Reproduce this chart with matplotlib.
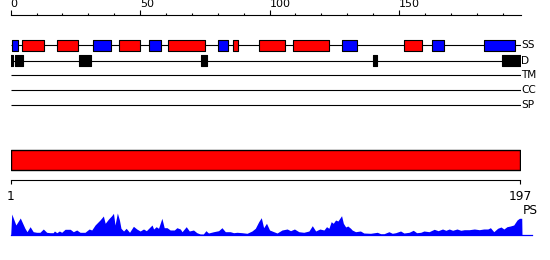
import numpy as np
import matplotlib.pyplot as plt

LENGTH = 197

# secondary structure segments (start, end) in residues
helix = [(4.5, 12.8), (17.7, 25.9), (41.7, 49.9), (60.6, 74.9), (85.8, 87.8),
         (95.8, 106.0), (109.0, 123.1), (151.9, 159.0)]
strand = [(0.6, 2.7), (31.6, 38.6), (53.5, 58.0), (80.0, 84.0), (127.9, 133.9),
          (162.8, 167.2), (182.9, 194.9)]
# disorder segments
disorder = [(-0.2, 0.8), (1.7, 4.6), (26.4, 30.9), (73.6, 76.0), (139.8, 141.4),
            (189.8, 197.3)]

track_names = ['SS', 'D', 'TM', 'CC', 'SP']
domain = [(1, 197)]

# PS profile (residue, score)
ps_pos = [0.0, 0.4, 2.0, 3.7, 5.5, 6.3, 7.5, 8.7, 10.0, 11.3, 12.6, 13.9, 15.2, 16.4,
          16.9, 17.8, 18.8, 19.7, 21.0, 23.0, 24.2, 25.5, 26.8, 28.7, 30.3,
          31.3, 32.6, 34.5, 35.8, 36.5, 37.8, 39.0, 39.7, 40.3, 41.2, 42.0, 42.6,
          43.6, 44.6, 45.9, 47.4, 48.7, 50.0, 51.3, 52.4, 54.6, 55.2, 56.2, 57.1,
          58.4, 59.3, 60.4, 61.6, 63.2, 64.2, 65.5, 66.2, 67.8, 69.0, 70.6, 71.9,
          73.2, 74.4, 75.4, 76.4, 78.4, 80.3, 81.6, 82.9, 84.8, 86.1, 87.4, 89.4,
          91.3, 93.2, 94.5, 95.8, 96.8, 97.7, 98.8, 100.0, 101.6, 102.9, 104.8,
          106.8, 108.1, 109.6, 111.3, 113.2, 115.2, 116.5, 117.8, 119.4, 121.0,
          122.0, 122.9, 123.8, 124.6, 125.5, 126.4, 127.8, 128.5, 129.4, 130.2,
          131.3, 131.9, 133.2, 135.1, 136.4, 139.0, 141.6, 142.9, 144.2, 146.1,
          147.4, 148.7, 150.6, 151.9, 153.9, 155.5, 156.8, 158.4, 159.6, 161.6,
          163.6, 165.1, 166.8, 168.1, 169.4, 170.7, 172.4, 173.9, 175.2, 177.1,
          179.1, 181.0, 182.7, 184.3, 185.3, 186.6, 188.1, 189.4, 190.5, 191.7,
          193.0, 194.3, 195.6, 196.5, 197.4, 197.5]
ps_val = [0, 21, 10, 17, 6.7, 3.3, 8.3, 3.3, 2.7, 2.7, 6, 2.7, 2.3, 2.3,
          4, 2.3, 4, 2.7, 5.7, 5.7, 3.3, 5, 2.7, 2.7, 6,
          5, 10, 15, 19, 11.7, 16, 19.3, 21.7, 10, 22, 15, 6.7,
          4, 6.7, 2.7, 8.7, 6, 4, 6, 4.3, 10, 6, 8.3, 6.7,
          16.7, 7.3, 7.3, 5, 5, 7.3, 6, 3.3, 8.3, 4, 5, 2.3,
          1, 1, 4.3, 2, 3.3, 4.3, 7.3, 3.3, 3.3, 2.3, 2.7, 2.3,
          1.7, 4, 6.7, 13.3, 17.3, 7.3, 11.7, 5, 3.3, 2, 5,
          6, 4.3, 6, 3.3, 2.7, 4, 9.3, 4, 6, 5,
          8.3, 6.7, 13.3, 11.7, 15, 14, 19.3, 11.7, 8, 9,
          6.7, 5, 3.3, 4, 2, 1.7, 2.7, 1.3, 1.3, 3.3,
          1.7, 2.3, 4, 2, 2.7, 4.7, 2.3, 2.7, 4, 3.3,
          5.7, 4.3, 6, 4.7, 6, 4.7, 6, 4.7, 5.3, 5.3,
          6, 5.3, 6, 6, 7.3, 3.3, 6.7, 8, 6, 8.3,
          9, 10, 15, 16.7, 16.7, 0]

W, H = 550, 260
x0, x1 = 10.7, 520.7

fig = plt.figure(figsize=(W / 100, H / 100), dpi=100)

# ---- feature tracks (y in pixels from top) ----
ax = fig.add_axes([x0 / W, 0, (x1 - x0) / W, 1])
ax.set_xlim(0, LENGTH)
ax.set_ylim(H, 0)
ax.patch.set_visible(False)
for s in ['left', 'right', 'bottom']:
    ax.spines[s].set_visible(False)
ax.spines['top'].set_position(('data', 15))
ax.spines['top'].set_linewidth(0.8)
ax.set_yticks([])
ax.xaxis.tick_top()
ax.set_xticks([0, 50, 100, 150])
ax.set_xticks(np.arange(10, 200, 10), minor=True)
ax.tick_params(axis='x', which='major', direction='out', length=3.6, width=0.8,
               pad=0.5, labelsize=8, colors='black')
ax.tick_params(axis='x', which='minor', direction='out', length=1.8, width=0.8)
for lab in ax.get_xticklabels():
    lab.set_ha('left')

row_y = [45.3, 60.5, 75.3, 90.3, 105.3]
for name, y in zip(track_names, row_y):
    ax.hlines(y, 0, LENGTH, color='black', lw=0.8)
    ax.text(LENGTH + 0.1, y, name, ha='left', va='center', fontsize=7.6)

ax.broken_barh([(a, b - a) for a, b in helix], (40, 10.7), facecolor='#ff0000',
               edgecolor='black', lw=0.8, zorder=3)
ax.broken_barh([(a, b - a) for a, b in strand], (40, 10.7), facecolor='#0000ff',
               edgecolor='black', lw=0.8, zorder=3)
ax.broken_barh([(a, b - a) for a, b in disorder], (55, 11), facecolor='black',
               edgecolor='black', lw=0.8, zorder=3)

# ---- domain bar and sequence axis ----
ax2 = fig.add_axes([x0 / W, 0, (520 - x0) / W, 1])
ax2.set_xlim(1, LENGTH)
ax2.set_ylim(H, 0)
ax2.patch.set_visible(False)
for s in ['left', 'right', 'top']:
    ax2.spines[s].set_visible(False)
ax2.spines['bottom'].set_position(('data', 180.3))
ax2.spines['bottom'].set_linewidth(0.8)
ax2.set_yticks([])
ax2.set_xticks([1, LENGTH])
ax2.tick_params(axis='x', direction='out', length=2.9, width=0.8, pad=3.9,
                labelsize=8.8)
ax2.broken_barh([(a, b - a) for a, b in domain], (150, 20.3), facecolor='#ff0000',
                edgecolor='black', lw=1.0)

# ---- PS profile ----
ax3 = fig.add_axes([x0 / W, (H - 235) / H, (x1 - x0) / W, 24 / H])
ax3.set_xlim(0, LENGTH)
ax3.set_ylim(0, 24)
ax3.axis('off')
ax3.fill_between(ps_pos, 0, ps_val, color='#0000ff', lw=0, clip_on=False)
ax3.plot([0, 201.5], [0, 0], color='#0000ff', lw=0.9, clip_on=False)
ax3.text(197.6, 24.3, 'PS', ha='left', va='center', fontsize=8.8)

fig.savefig('out.png', dpi=100)
